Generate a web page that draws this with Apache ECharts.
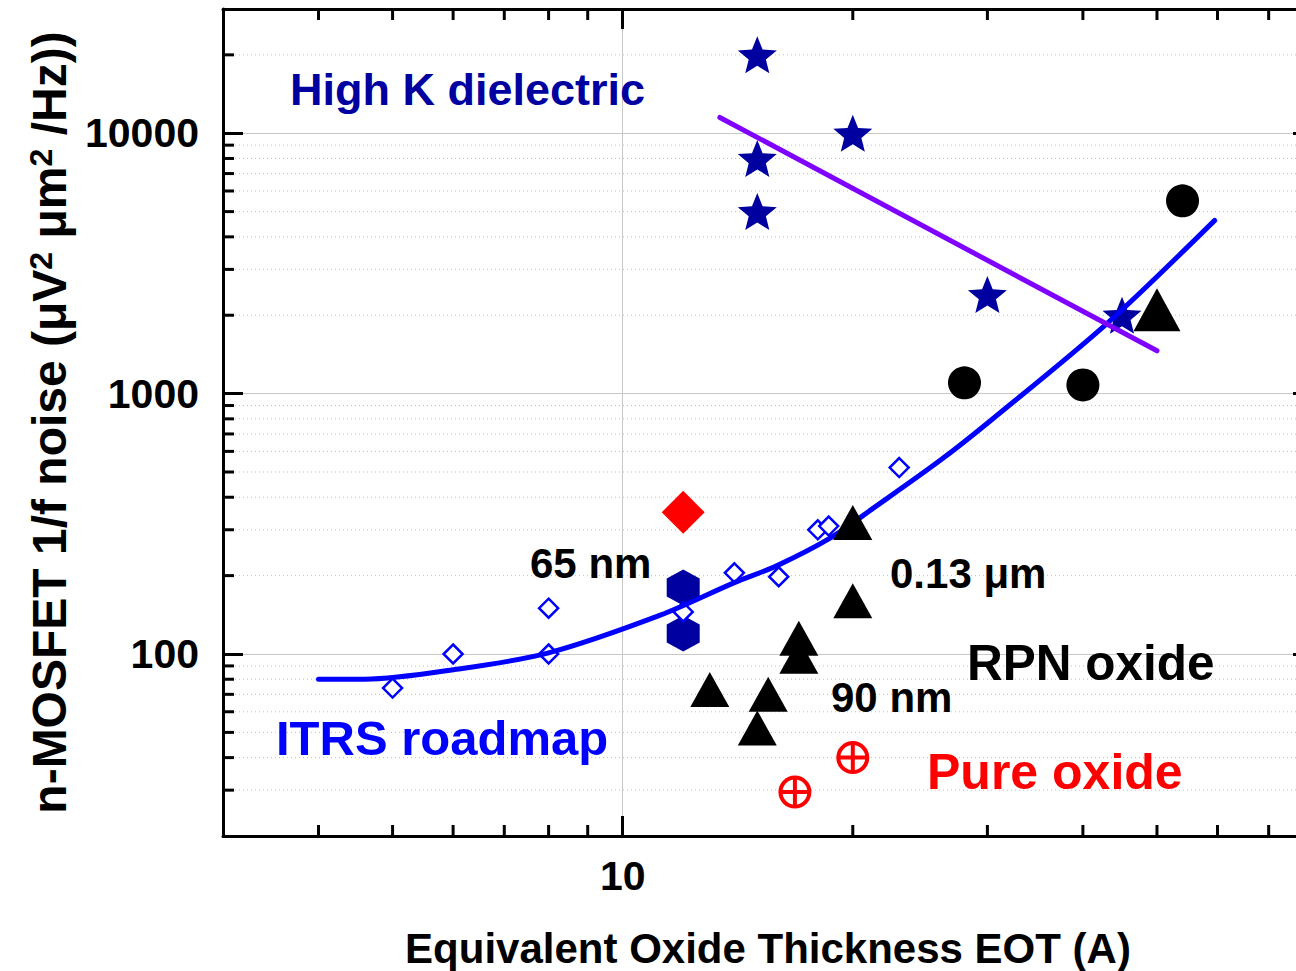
<!DOCTYPE html>
<html><head><meta charset="utf-8">
<script src="https://cdn.jsdelivr.net/npm/echarts@6/dist/echarts.min.js"></script>
<style>html,body{margin:0;padding:0;background:#fff}#c{width:1296px;height:971px}</style>
</head><body><div id="c"></div>
<script>
// ---- data ----
const X_MIN = 3, X_MAX = 80, Y_MIN = 20, Y_MAX = 30000;
const xMinorTicks = [4, 5, 6, 7, 8, 9, 20, 30, 40, 50, 60, 70];
const yMinorTicks = [30, 40, 50, 60, 70, 80, 90, 200, 300, 400, 500, 600, 700, 800, 900,
  2000, 3000, 4000, 5000, 6000, 7000, 8000, 9000, 20000];

const highKStarX = [15, 15, 15, 20, 30, 45];
const highKStarY = [20000, 8000, 5000, 10000, 2400, 2000];
const circleX = [28, 40, 54];
const circleY = [1100, 1080, 5500];
const triX = [20, 20, 17, 17, 13, 15.5, 15];
const triY = [320, 160, 115, 98, 73, 70, 52];
const bigTriX = [50];
const bigTriY = [2100];
const hexX = [12, 12];
const hexY = [180, 120];
const redDiamondX = [12];
const redDiamondY = [350];
const pureOxideX = [20, 16.8];
const pureOxideY = [40, 29.5];
const itrsX = [5, 6, 8, 8, 12, 14, 16, 18, 18.6, 23];
const itrsY = [74, 100, 100, 150, 145, 205, 198, 300, 310, 520];
const itrsFitX = [4, 4.6, 6.1, 8, 11.2, 14, 15.9, 18.7, 21.3, 26, 30.5, 43, 59.5];
const itrsFitY = [80, 80, 87.6, 101, 141, 188, 218, 279, 364, 553, 801, 1858, 4627];
const highKLineX = [13.4, 50];
const highKLineY = [11500, 1460];

// ---- chart ----
const FONT = '"Liberation Sans", Arial, sans-serif';
const pairs = (xs, ys) => xs.map((x, i) => [x, ys[i]]);
const STAR = 'path://M50,0L62.93,32.2L97.55,34.55L70.92,56.8L79.39,90.45L50,72L20.61,90.45L29.08,56.8L2.45,34.55L37.07,32.2Z';
const HEX = 'path://M50,0L93.3,25L93.3,75L50,100L6.7,75L6.7,25Z';
const CPLUS = 'path://M0,50A50,50 0 1,1 100,50A50,50 0 1,1 0,50ZM0,50L100,50M50,0L50,100';

const chart = echarts.init(document.getElementById('c'), null, {renderer: 'svg'});

function isDecade(v) { const l = Math.log10(v); return Math.abs(l - Math.round(l)) < 1e-6; }
const labelFmt = v => isDecade(v) ? String(Math.round(v)) : '';

function minorRender(params, api) {
  const children = [];
  const dotted = {stroke: '#c0c0c0', lineWidth: 1, lineDash: [1, 3]};
  const tick = {stroke: '#000', lineWidth: 3};
  yMinorTicks.forEach(v => {
    const l = api.coord([X_MIN, v]), r = api.coord([X_MAX, v]);
    children.push({type: 'line', shape: {x1: l[0], y1: l[1], x2: r[0], y2: r[1]}, style: dotted});
    children.push({type: 'line', shape: {x1: l[0], y1: l[1], x2: l[0] + 11, y2: l[1]}, style: tick});
    children.push({type: 'line', shape: {x1: r[0] - 11, y1: r[1], x2: r[0], y2: r[1]}, style: tick});
  });
  xMinorTicks.forEach(v => {
    const b = api.coord([v, Y_MIN]), t = api.coord([v, Y_MAX]);
    children.push({type: 'line', shape: {x1: b[0], y1: b[1], x2: b[0], y2: b[1] - 11}, style: tick});
    children.push({type: 'line', shape: {x1: t[0], y1: t[1], x2: t[0], y2: t[1] + 11}, style: tick});
  });
  return {type: 'group', children};
}

const axisCommon = {
  type: 'log', logBase: 10,
  axisLine: {onZero: false, lineStyle: {color: '#000', width: 3}},
  axisTick: {inside: true, length: 20, lineStyle: {color: '#000', width: 3}},
  minorTick: {show: false}, minorSplitLine: {show: false}
};
const labelStyle = {fontFamily: FONT, fontWeight: 'bold', fontSize: 41, color: '#000', formatter: labelFmt};

function txt(text, x, y, size, color) {
  return {type: 'text', x, y, z: 100,
    style: {text, fill: color, font: 'bold ' + size + 'px ' + FONT, align: 'left', verticalAlign: 'middle'}};
}
const solid = c => ({color: c, opacity: 1});

chart.setOption({
  animation: false,
  backgroundColor: '#fff',
  grid: {left: 223, top: 9, width: 1090, height: 827, containLabel: false, outerBoundsMode: 'none'},
  xAxis: [
    Object.assign({}, axisCommon, {
      min: X_MIN, max: X_MAX, position: 'bottom',
      axisLabel: Object.assign({}, labelStyle, {margin: 19}),
      splitLine: {show: true, lineStyle: {color: '#c8c8c8', width: 1}},
      name: 'Equivalent Oxide Thickness EOT (A)', nameLocation: 'middle', nameGap: 91,
      nameTextStyle: {fontFamily: FONT, fontWeight: 'bold', fontSize: 42, color: '#000'}
    }),
    Object.assign({}, axisCommon, {
      min: X_MIN, max: X_MAX, position: 'top',
      axisLabel: {show: false}, splitLine: {show: false}
    })
  ],
  yAxis: [
    Object.assign({}, axisCommon, {
      min: Y_MIN, max: Y_MAX, position: 'left',
      axisLabel: Object.assign({}, labelStyle, {margin: 24}),
      splitLine: {show: true, lineStyle: {color: '#c8c8c8', width: 1}},
      name: '{a|n-MOSFET 1/f noise (μV}{s|2}{a| μm}{s|2}{a| /Hz))}',
      nameLocation: 'middle', nameGap: 150, nameRotate: 90,
      nameTextStyle: {
        color: '#000',
        rich: {
          a: {fontFamily: FONT, fontWeight: 'bold', fontSize: 48, color: '#000'},
          s: {fontFamily: FONT, fontWeight: 'bold', fontSize: 32, color: '#000', verticalAlign: 'top'}
        }
      }
    }),
    Object.assign({}, axisCommon, {
      min: Y_MIN, max: Y_MAX, position: 'right',
      axisLabel: {show: false}, splitLine: {show: false}
    })
  ],
  series: [
    {type: 'custom', coordinateSystem: 'cartesian2d', xAxisIndex: 0, yAxisIndex: 0,
      renderItem: minorRender, data: [[10, 100]], clip: false, silent: true, z: 1},
    {type: 'scatter', name: 'High K', data: pairs(highKStarX, highKStarY), symbol: STAR,
      symbolSize: [39, 37], itemStyle: solid('#0000A0'), z: 2},
    {type: 'scatter', name: '65nm', data: pairs(hexX, hexY), symbol: HEX,
      symbolSize: [33, 36], itemStyle: solid('#0000A0'), z: 2},
    {type: 'scatter', name: 'ITRS', data: pairs(itrsX, itrsY), symbol: 'diamond',
      symbolSize: [19, 19], itemStyle: {color: '#fff', opacity: 1, borderColor: '#0000FF', borderWidth: 2.5}, z: 3},
    {type: 'line', name: 'ITRS fit', data: pairs(itrsFitX, itrsFitY), showSymbol: false, symbol: 'none',
      smooth: 0.3, lineStyle: {color: '#0000FF', width: 5, cap: 'round', opacity: 1}, z: 4},
    {type: 'line', name: 'High K trend', data: pairs(highKLineX, highKLineY), showSymbol: false, symbol: 'none',
      lineStyle: {color: '#8000FF', width: 5, cap: 'round', opacity: 1}, z: 4},
    {type: 'scatter', name: 'RPN circles', data: pairs(circleX, circleY), symbol: 'circle',
      symbolSize: 33, itemStyle: solid('#000'), z: 5},
    {type: 'scatter', name: 'RPN triangles', data: pairs(triX, triY), symbol: 'triangle',
      symbolSize: [39, 35], itemStyle: solid('#000'), z: 5},
    {type: 'scatter', name: 'RPN big triangle', data: pairs(bigTriX, bigTriY), symbol: 'triangle',
      symbolSize: [47, 43], itemStyle: solid('#000'), z: 5},
    {type: 'scatter', name: 'Red diamond', data: pairs(redDiamondX, redDiamondY), symbol: 'diamond',
      symbolSize: [43, 43], itemStyle: solid('#FF0000'), z: 5},
    {type: 'scatter', name: 'Pure oxide', data: pairs(pureOxideX, pureOxideY), symbol: CPLUS,
      symbolSize: [29, 29], itemStyle: {color: 'rgba(0,0,0,0)', opacity: 1, borderColor: '#FF0000', borderWidth: 4}, z: 5}
  ],
  graphic: [
    txt('High K dielectric', 290, 89, 45, '#0000A0'),
    txt('ITRS roadmap', 276, 738, 49, '#0000FF'),
    txt('65 nm', 530, 563, 42, '#000'),
    txt('0.13 μm', 890, 573, 42, '#000'),
    txt('RPN oxide', 967, 662, 49.5, '#000'),
    txt('90 nm', 831, 697, 42, '#000'),
    txt('Pure oxide', 927, 772, 50, '#FF0000')
  ]
});
</script></body></html>
